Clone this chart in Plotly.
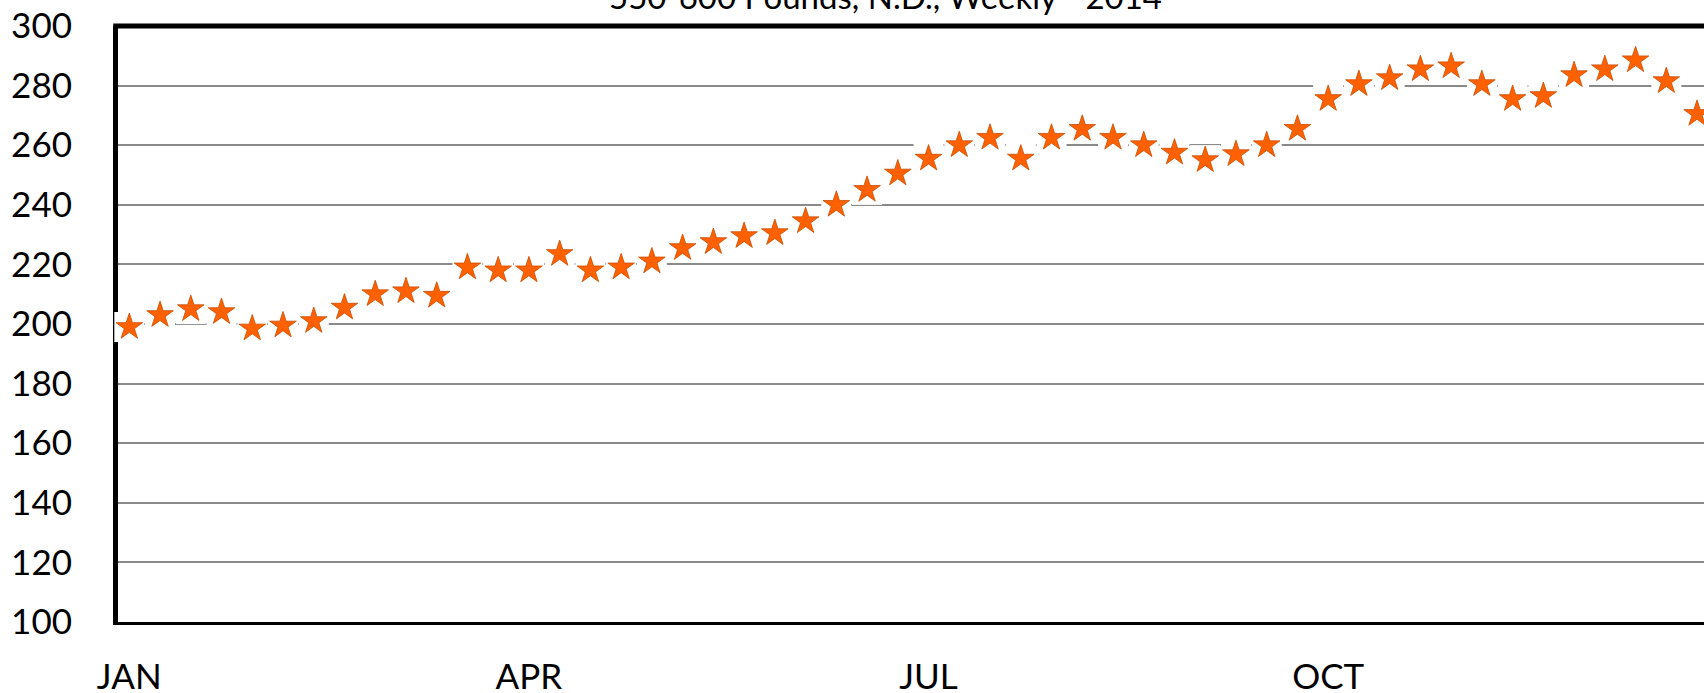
import plotly.graph_objects as go

# ---- data ----
weeks = list(range(1, 53))
prices = [199, 203, 205, 204, 198.5, 199.5, 201, 205.5, 210, 211, 209.5,
          219, 218, 218, 223.5, 218, 219, 221, 225.5, 227.5, 229.5, 230.5,
          234.5, 240, 245, 250.5, 255.5, 260, 262.5, 255.5, 262.5, 265.5,
          262.5, 260, 257.5, 255, 257, 260, 265.5, 275.5, 280.5, 282.5,
          285.5, 286.5, 280.5, 275.5, 276.5, 283.5, 285.5, 288.5, 281.5, 270.5]
month_ticks = [1, 14, 27, 40]
month_labels = ["JAN", "APR", "JUL", "OCT"]
y_ticks = list(range(100, 301, 20))
title_text = "550-600 Pounds, N.D., Weekly - 2014"

FONT = "Lato"

fig = go.Figure()
# white knock-out boxes behind each star
fig.add_trace(go.Scatter(
    x=weeks, y=prices, mode="markers",
    marker=dict(symbol="square", size=30, color="white", line=dict(width=0)),
    cliponaxis=False, hoverinfo="skip", showlegend=False))
# stars
fig.add_trace(go.Scatter(
    x=weeks, y=prices, mode="markers",
    marker=dict(symbol="star", size=20, color="#FF6100",
                line=dict(color="#C94C00", width=0.8)),
    cliponaxis=False, showlegend=False))

fig.update_layout(
    width=1704, height=693,
    margin=dict(l=118, r=0, t=26, b=71),
    paper_bgcolor="white", plot_bgcolor="white",
    font=dict(family=FONT, color="black", size=35),
    xaxis=dict(range=[0.632, 52.226], tickvals=month_ticks, ticktext=month_labels,
               showgrid=False, zeroline=False, ticks="",
               showline=True, linecolor="black", linewidth=3,
               tickfont=dict(size=35, family=FONT), ticklabelstandoff=22,
               layer="below traces", automargin=False),
    yaxis=dict(range=[100, 300], tickvals=y_ticks, showgrid=True,
               gridcolor="#8A8A8A", gridwidth=2, zeroline=False, ticks="",
               showline=True, linecolor="black", linewidth=5,
               tickfont=dict(size=35, family=FONT), ticklabelstandoff=34,
               layer="below traces", automargin=False),
    shapes=[dict(type="line", xref="paper", yref="paper", x0=-0.003, x1=1,
                 y0=1, y1=1, line=dict(color="black", width=5), layer="above")],
    annotations=[dict(text=title_text, xref="paper", yref="paper", x=0.484, y=1,
                      xanchor="center", yanchor="middle", yshift=30,
                      showarrow=False, font=dict(size=33, family=FONT, color="black"))],
)

fig.write_html("out.html", config={"displayModeBar": False},
               post_script="document.body.style.margin='0px';")
